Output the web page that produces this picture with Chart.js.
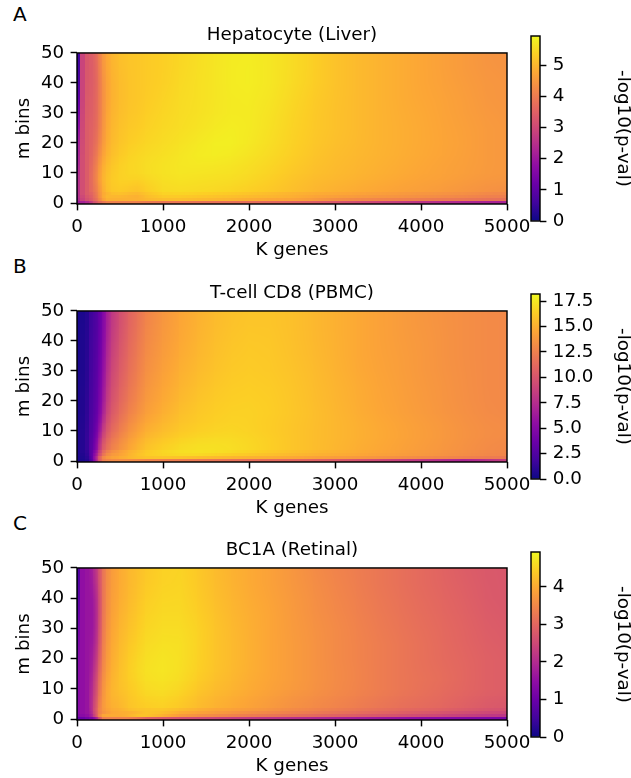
<!DOCTYPE html>
<html><head><meta charset="utf-8">
<script src="https://cdn.jsdelivr.net/npm/chart.js@4"></script>
<style>
html,body{margin:0;padding:0;background:#fff;width:631px;height:778px;overflow:hidden}
canvas{position:absolute}
.tag{position:absolute;left:13px;font:20px/24px "DejaVu Sans";color:#000}
</style></head><body>
<div class="tag" style="top:2px">A</div>
<div class="tag" style="top:254px">B</div>
<div class="tag" style="top:511px">C</div>
<script>
const kEdges=[0,25,50,100,150,200,250,300,350,400,500,600,700,800,1000,1200,1400,1600,1800,2000,2250,2500,2750,3000,3250,3500,3750,4000,4250,4500,4750,5000];
const mEdges=[-0.33,1,2,3,4,6,8,10,13,16,20,25,30,35,40,45,50];
const xTicksTop=5000, yTicksTop=50;
const hepatocyte=[
[1.8,2.0,2.2,2.4,2.6,3.6,3.6,4.1,4.1,4.1,4.1,4.1,4.1,3.9,3.9,3.9,3.8,3.8,3.8,3.7,3.6,3.5,3.4,3.2,3.0,2.9,2.7,2.5,2.4,2.3,2.2],
[1.5,2.4,2.9,3.2,3.3,3.8,4.3,4.9,4.9,4.9,4.9,4.9,4.9,5.1,5.1,5.1,5.0,5.0,4.9,4.8,4.7,4.7,4.4,4.3,4.2,4.15,4.1,4.0,3.95,3.9,3.8],
[1.6,2.5,3.0,3.3,3.4,3.9,4.5,5.0,5.0,5.0,5.0,4.9,4.9,5.25,5.3,5.25,5.2,5.15,5.1,5.0,4.95,4.8,4.65,4.6,4.5,4.45,4.4,4.3,4.25,4.15,4.05],
[1.7,2.5,3.1,3.4,3.5,3.9,4.6,4.9,5.0,5.2,5.1,5.05,5.0,5.35,5.45,5.4,5.35,5.3,5.25,5.15,5.0,4.9,4.8,4.75,4.65,4.6,4.5,4.45,4.4,4.3,4.2],
[2.0,2.5,3.1,3.4,3.6,4.0,4.6,5.0,5.15,5.3,5.25,5.2,5.15,5.45,5.55,5.5,5.5,5.45,5.4,5.3,5.2,5.05,4.95,4.85,4.8,4.7,4.65,4.6,4.5,4.45,4.35],
[2.0,2.5,3.1,3.4,3.6,4.15,4.75,5.05,5.2,5.35,5.4,5.35,5.3,5.5,5.6,5.6,5.55,5.55,5.5,5.4,5.25,5.1,5.0,4.95,4.85,4.8,4.7,4.65,4.6,4.5,4.45],
[1.8,2.5,3.1,3.4,3.65,4.2,4.8,5.05,5.2,5.35,5.4,5.45,5.45,5.55,5.65,5.65,5.6,5.6,5.55,5.45,5.3,5.15,5.05,5.0,4.9,4.85,4.75,4.7,4.65,4.55,4.5],
[1.4,2.4,3.1,3.4,3.6,4.1,4.7,5.0,5.15,5.3,5.45,5.45,5.5,5.6,5.65,5.7,5.65,5.65,5.6,5.5,5.35,5.2,5.1,5.0,4.95,4.85,4.8,4.7,4.65,4.6,4.5],
[1.0,2.2,3.1,3.4,3.55,4.0,4.55,4.9,5.05,5.25,5.4,5.45,5.5,5.55,5.65,5.7,5.75,5.7,5.65,5.55,5.4,5.25,5.1,5.05,4.95,4.9,4.8,4.75,4.65,4.6,4.5],
[0.7,2.3,3.1,3.4,3.5,3.85,4.35,4.75,4.95,5.15,5.3,5.4,5.45,5.5,5.6,5.7,5.8,5.8,5.75,5.6,5.45,5.3,5.15,5.05,5.0,4.9,4.85,4.75,4.7,4.6,4.5],
[0.5,2.0,3.0,3.4,3.5,3.7,4.2,4.65,4.9,5.1,5.25,5.3,5.35,5.45,5.55,5.6,5.7,5.8,5.8,5.65,5.5,5.3,5.2,5.1,5.0,4.9,4.85,4.75,4.7,4.6,4.5],
[0.4,1.6,3.0,3.4,3.45,3.6,4.1,4.6,4.85,5.05,5.2,5.25,5.3,5.4,5.5,5.55,5.65,5.7,5.75,5.7,5.5,5.35,5.2,5.1,5.0,4.9,4.85,4.75,4.65,4.6,4.5],
[0.3,1.2,2.9,3.35,3.4,3.6,4.1,4.55,4.8,5.0,5.15,5.2,5.25,5.35,5.5,5.55,5.6,5.7,5.75,5.7,5.55,5.35,5.2,5.1,5.0,4.9,4.8,4.75,4.65,4.55,4.45],
[0.2,0.9,2.9,3.35,3.4,3.55,4.1,4.5,4.75,5.0,5.15,5.2,5.25,5.3,5.45,5.55,5.6,5.7,5.75,5.75,5.6,5.4,5.25,5.1,5.0,4.9,4.8,4.7,4.65,4.55,4.45],
[0.15,0.7,2.9,3.3,3.35,3.5,4.15,4.55,4.8,5.0,5.15,5.2,5.25,5.3,5.4,5.55,5.6,5.7,5.8,5.75,5.6,5.45,5.25,5.1,5.0,4.9,4.8,4.7,4.6,4.5,4.45],
[0.1,0.6,2.9,3.3,3.4,3.6,4.3,4.65,4.85,5.05,5.2,5.2,5.25,5.3,5.4,5.5,5.6,5.7,5.75,5.75,5.6,5.45,5.25,5.1,5.0,4.9,4.8,4.7,4.6,4.5,4.4]
];
const tcell=[
[0.3,0.4,0.5,0.8,1.5,7,12,12.5,13,13.2,13.2,13.2,13,12.6,12.4,12.2,12,11.8,11.6,11.4,11.2,11,10.6,10.2,9.6,9,8.4,7.8,7.2,6.8,8.6],
[0.4,0.5,0.6,1,1.8,7.5,12,13.5,14,14.5,15,15.5,15.8,16,16,15.8,15.6,15.4,15.2,15,14.8,14.5,14.2,14,13.8,13.5,13.2,13,12.8,12.5,12.2],
[0.4,0.6,0.7,1.2,2.2,6.5,10.5,12.5,13.5,14,14.7,15.5,16,16.5,16.8,17,16.8,16.5,16.3,16,15.6,15.3,15,14.8,14.5,14.2,14,13.7,13.4,13.1,12.8],
[0.4,0.6,0.8,1.3,2.4,5.5,10,11.8,12.8,13.6,14.6,15.3,15.8,16.5,17,17.2,17.2,17,16.8,16.4,16,15.6,15.3,15,14.7,14.4,14.1,13.8,13.5,13.2,12.9],
[0.4,0.6,0.8,1.4,2.5,4.5,9.5,11,12,13,14,14.9,15.5,16.2,16.8,17.1,17.2,17.1,17,16.6,16.2,15.8,15.5,15.1,14.8,14.5,14.2,13.9,13.6,13.3,13],
[0.4,0.6,0.8,1.4,2.5,4,8.5,10.3,11.3,12.5,13.6,14.5,15.1,15.8,16.4,16.8,17,17,16.9,16.6,16.2,15.8,15.5,15.2,14.9,14.6,14.3,14,13.7,13.4,13.1],
[0.4,0.6,0.8,1.4,2.4,3.6,7.5,9.8,10.8,12,13.2,14.1,14.8,15.5,16.1,16.5,16.7,16.8,16.8,16.5,16.2,15.8,15.5,15.2,14.9,14.6,14.3,14,13.7,13.4,13.2],
[0.4,0.6,0.8,1.3,2.3,3.4,6.5,9,10.3,11.5,12.8,13.7,14.4,15.1,15.8,16.2,16.4,16.6,16.6,16.4,16.1,15.8,15.5,15.2,14.9,14.6,14.3,14,13.7,13.4,13.2],
[0.3,0.5,0.7,1.2,2.2,3.2,5.5,8.2,9.7,11,12.3,13.2,13.9,14.7,15.6,16,16.3,16.5,16.6,16.5,16.2,15.9,15.5,15.2,14.8,14.5,14.2,13.9,13.6,13.3,13.1],
[0.3,0.5,0.7,1.2,2.1,3.1,4.8,7.5,9.2,10.6,11.9,12.8,13.5,14.4,15.3,15.9,16.2,16.4,16.5,16.5,16.2,15.9,15.5,15.1,14.7,14.4,14.1,13.8,13.5,13.3,13],
[0.3,0.5,0.7,1.1,2,3,4.5,7,8.8,10.2,11.5,12.4,13.2,14.2,15,15.6,16,16.3,16.4,16.4,16.2,15.8,15.4,15.1,14.7,14.4,14.1,13.8,13.5,13.2,13],
[0.3,0.5,0.6,1,1.9,2.9,4.2,6.6,8.4,9.9,11.2,12.1,12.9,13.9,14.8,15.4,15.8,16.1,16.3,16.3,16.1,15.8,15.4,15,14.6,14.3,14,13.7,13.5,13.2,13],
[0.3,0.4,0.6,1,1.8,2.8,4,6.2,8,9.6,10.9,11.9,12.7,13.7,14.6,15.2,15.6,16,16.2,16.2,16,15.7,15.3,14.9,14.5,14.3,14,13.7,13.4,13.2,13],
[0.3,0.4,0.6,0.9,1.8,2.7,3.8,5.9,7.7,9.3,10.7,11.7,12.5,13.5,14.4,15,15.5,15.9,16.1,16.2,16,15.6,15.3,14.9,14.5,14.2,14,13.7,13.4,13.2,13],
[0.3,0.4,0.6,0.9,1.7,2.6,3.6,5.6,7.5,9,10.5,11.5,12.3,13.4,14.3,14.9,15.4,15.8,16,16.1,15.9,15.6,15.2,14.9,14.5,14.2,13.9,13.7,13.4,13.2,13],
[0.3,0.4,0.5,0.8,1.6,2.5,3.5,5.5,7.2,8.8,10.3,11.3,12.1,13.2,14.2,14.8,15.3,15.7,15.9,16,15.9,15.6,15.2,14.9,14.5,14.2,13.9,13.6,13.4,13.2,13]
];
const bc1a=[
[0.4,0.9,1,1.1,1.2,1.4,3.3,3.4,3.4,3.4,3.4,3.4,3.1,2.9,2.7,2.6,2.5,2.4,2.3,2.2,2.1,2,1.9,1.8,1.7,1.6,1.5,1.4,1.35,1.3,1.2],
[0.6,1.3,1.4,1.5,1.6,2.8,3.9,3.95,4,4,4,4.2,4.35,4.3,3.9,3.7,3.6,3.5,3.4,3.3,3.2,3.1,3,2.9,2.8,2.7,2.6,2.5,2.4,2.3,2.2],
[0.6,1.4,1.5,1.6,1.7,3,3.6,3.7,3.9,4,4.05,4.1,4.25,4.4,4.1,3.95,3.85,3.75,3.65,3.55,3.45,3.35,3.25,3.15,3.05,2.95,2.85,2.75,2.65,2.55,2.45],
[0.5,1.4,1.5,1.6,1.75,3.05,3.6,3.8,3.95,4.05,4.1,4.35,4.25,4.4,4.3,4.15,4,3.9,3.85,3.75,3.6,3.5,3.4,3.3,3.2,3.1,3,2.95,2.85,2.75,2.65],
[0.5,1.4,1.5,1.6,1.8,2.95,3.6,3.85,4,4.1,4.2,4.4,4.35,4.5,4.45,4.3,4.15,4.05,3.95,3.85,3.7,3.6,3.5,3.4,3.3,3.2,3.1,3.05,2.95,2.85,2.75],
[0.5,1.4,1.5,1.6,1.8,2.8,3.5,3.85,4.05,4.15,4.25,4.4,4.45,4.55,4.55,4.35,4.2,4.1,4,3.9,3.75,3.65,3.55,3.45,3.35,3.25,3.15,3.1,3,2.9,2.8],
[0.4,1.4,1.5,1.6,1.8,2.7,3.45,3.85,4.05,4.2,4.3,4.4,4.5,4.6,4.6,4.4,4.25,4.15,4.05,3.95,3.8,3.7,3.6,3.5,3.4,3.3,3.2,3.1,3,2.95,2.85],
[0.4,1.4,1.5,1.6,1.75,2.6,3.4,3.8,4,4.2,4.35,4.45,4.55,4.65,4.65,4.5,4.3,4.2,4.1,3.95,3.85,3.75,3.6,3.5,3.4,3.3,3.2,3.15,3.05,2.95,2.85],
[0.3,1.4,1.5,1.6,1.7,2.5,3.3,3.75,3.95,4.2,4.35,4.5,4.6,4.7,4.7,4.55,4.35,4.25,4.1,4,3.85,3.75,3.6,3.55,3.4,3.3,3.2,3.15,3.05,2.95,2.85],
[0.25,1.4,1.5,1.6,1.65,2.3,3.2,3.65,3.9,4.15,4.35,4.5,4.6,4.7,4.72,4.55,4.4,4.25,4.15,4,3.85,3.75,3.6,3.5,3.4,3.3,3.2,3.1,3.05,2.95,2.85],
[0.2,1.3,1.5,1.6,1.65,2,3.1,3.6,3.85,4.1,4.3,4.45,4.55,4.65,4.7,4.6,4.4,4.25,4.15,4,3.85,3.75,3.6,3.5,3.4,3.3,3.2,3.1,3,2.95,2.85],
[0.2,1.2,1.5,1.6,1.6,1.8,3,3.5,3.8,4.05,4.25,4.35,4.5,4.6,4.65,4.6,4.4,4.25,4.15,4,3.85,3.75,3.6,3.5,3.4,3.3,3.2,3.1,3,2.9,2.8],
[0.15,1.1,1.5,1.6,1.6,1.75,2.95,3.45,3.75,4,4.2,4.3,4.45,4.55,4.6,4.55,4.4,4.25,4.1,4,3.85,3.7,3.6,3.5,3.35,3.25,3.15,3.05,3,2.9,2.8],
[0.15,0.9,1.5,1.6,1.6,1.75,2.9,3.4,3.7,3.95,4.15,4.25,4.4,4.5,4.6,4.5,4.35,4.2,4.1,4,3.85,3.7,3.55,3.45,3.35,3.25,3.15,3.05,2.95,2.85,2.75],
[0.15,0.8,1.5,1.6,1.6,1.9,2.9,3.4,3.7,3.9,4.1,4.2,4.35,4.45,4.55,4.5,4.3,4.2,4.05,3.95,3.8,3.7,3.55,3.45,3.3,3.2,3.1,3,2.95,2.85,2.75],
[0.15,0.7,1.5,1.6,1.65,2.2,2.9,3.4,3.65,3.9,4.1,4.2,4.3,4.4,4.55,4.45,4.3,4.15,4.05,3.95,3.8,3.65,3.5,3.4,3.3,3.2,3.1,3,2.9,2.8,2.75]
];
const panelTitles=["Hepatocyte (Liver)","T-cell CD8 (PBMC)","BC1A (Retinal)"];
const colorMax=[5.93,18.2,4.93];
const colorSteps=[1,2.5,1];
const colorDecimals=[0,1,0];
const plasma=["#0d0887","#41049d","#6a00a8","#8f0da4","#b12a90","#cc4778","#e16462","#f1844b","#fca636","#fcce25","#f0f921"];

const FONT={family:'"DejaVu Sans"',size:18.3};
const LINE=1.45, TICK=6.4, PAD=6.4;
const SHARP_COLS=4, SHARP_ROWS=4;
Chart.defaults.animation=false;
Chart.defaults.font.family=FONT.family;
Chart.defaults.color='#000';

function rgb(h){return [1,3,5].map(i=>parseInt(h.substr(i,2),16));}
const plasmaRgb=plasma.map(rgb);
function colorOf(f){
  f=Math.max(0,Math.min(1,f))*10;
  const i=Math.min(9,Math.floor(f)),t=f-i,a=plasmaRgb[i],b=plasmaRgb[i+1];
  return a.map((c,n)=>Math.round(c+(b[n]-c)*t));
}
const frame={id:'frame',afterDatasetsDraw(c){
  const a=c.chartArea,x=c.ctx;x.save();x.strokeStyle='#000';x.lineWidth=LINE;
  x.strokeRect(a.left,a.top,a.right-a.left,a.bottom-a.top);x.restore();
}};
function addCanvas(left,top,w,h){
  const cv=document.createElement('canvas');
  cv.width=w;cv.height=h;cv.style.left=left+'px';cv.style.top=top+'px';
  cv.style.width=w+'px';cv.style.height=h+'px';
  document.body.appendChild(cv);return cv.getContext('2d');
}
// value at one corner of a cell: blended with the neighbours on the smooth part of the map
function corner(rows,i,j,right,up){
  const i2=i+(right?1:-1), j2=j+(up?1:-1);
  const okI=i>=SHARP_COLS&&i2>=SHARP_COLS&&i2<rows[0].length;
  const okJ=j>=SHARP_ROWS&&j2>=SHARP_ROWS&&j2<rows.length;
  let s=rows[j][i],n=1;
  if(okI){s+=rows[j][i2];n++;}
  if(okJ){s+=rows[j2][i];n++;}
  if(okI&&okJ){s+=rows[j2][i2];n++;}
  return s/n;
}
function cellStyle(ctx,rows,vmax){
  const r=ctx.raw,s=ctx.chart.scales;
  if(!r||!s.x||!s.y)return 'rect';
  const pw=Math.abs(s.x.getPixelForValue(r.x1)-s.x.getPixelForValue(r.x0));
  const ph=Math.abs(s.y.getPixelForValue(r.y0)-s.y.getPixelForValue(r.y1));
  if(!Number.isFinite(pw)||!Number.isFinite(ph))return 'rect';
  const w=Math.ceil(pw)+1,h=Math.ceil(ph)+1;
  const cv=document.createElement('canvas');cv.width=w;cv.height=h;
  const g=cv.getContext('2d'),img=g.createImageData(w,h);
  const ll=corner(rows,r.i,r.j,false,false),lr=corner(rows,r.i,r.j,true,false),
        ul=corner(rows,r.i,r.j,false,true),ur=corner(rows,r.i,r.j,true,true);
  for(let py=0;py<h;py++){
    const t=1-(py+.5)/h;
    for(let px=0;px<w;px++){
      const u=(px+.5)/w;
      const v=(ll*(1-u)+lr*u)*(1-t)+(ul*(1-u)+ur*u)*t;
      const c=colorOf(v/vmax),o=(py*w+px)*4;
      img.data[o]=c[0];img.data[o+1]=c[1];img.data[o+2]=c[2];img.data[o+3]=255;
    }
  }
  g.putImageData(img,0,0);
  return cv;
}
function heatmap(rows,idx,axTop,axBottom){
  const cells=[];
  rows.forEach((row,j)=>row.forEach((v,i)=>cells.push({
    x:(kEdges[i]+kEdges[i+1])/2,y:(mEdges[j]+mEdges[j+1])/2,
    x0:kEdges[i],x1:kEdges[i+1],y0:mEdges[j],y1:mEdges[j+1],v,i,j})));
  const titleH=29,axisH=57,top=axTop-titleH;
  const ctx=addCanvas(0,top,540,titleH+(axBottom-axTop)+axisH);
  const vmax=colorMax[idx];
  return new Chart(ctx,{type:'scatter',plugins:[frame],
    data:{datasets:[{data:cells,showLine:false,pointRadius:3,pointBorderWidth:0,
      pointStyle:c=>cellStyle(c,rows,vmax)}]},
    options:{responsive:false,events:[],layout:{padding:{right:33,left:0,top:0,bottom:0}},
      plugins:{legend:{display:false},tooltip:{enabled:false},
        title:{display:true,text:panelTitles[idx],color:'#000',font:{...FONT,weight:'normal',lineHeight:1.2},fullSize:false,padding:{top:0,bottom:7}}},
      scales:{
        x:{type:'linear',min:0,max:xTicksTop,afterFit:s=>{s.height=axisH;},
          ticks:{stepSize:1000,maxRotation:0,font:FONT,color:'#000',padding:PAD-1,callback:v=>String(v)},
          grid:{drawOnChartArea:false,tickLength:TICK,tickWidth:LINE,tickColor:'#000'},border:{display:false},
          title:{display:true,text:'K genes',color:'#000',font:FONT,padding:{top:0,bottom:0}}},
        y:{type:'linear',min:mEdges[0],max:yTicksTop,afterFit:s=>{s.width=77;},
          ticks:{stepSize:10,includeBounds:false,font:FONT,color:'#000',padding:PAD},
          grid:{drawOnChartArea:false,tickLength:TICK,tickWidth:LINE,tickColor:'#000'},border:{display:false},
          title:{display:true,text:'m bins',color:'#000',font:FONT,padding:{top:13,bottom:0}}}
      }}});
}
function colorbar(idx,cTop,cBottom){
  const off=14,vmax=colorMax[idx];
  const ctx=addCanvas(520,cTop-off,114,cBottom-cTop+2*off);
  return new Chart(ctx,{type:'bar',plugins:[frame],
    data:{labels:[''],datasets:[{data:[[0,vmax]],barPercentage:1,categoryPercentage:1,borderWidth:0,
      backgroundColor:c=>{
        const y=c.chart.scales.y;
        if(!y||y.top===undefined)return plasma[5];
        const g=c.chart.ctx.createLinearGradient(0,y.getPixelForValue(0),0,y.getPixelForValue(vmax));
        plasma.forEach((p,i)=>g.addColorStop(i/10,p));return g;}}]},
    options:{responsive:false,events:[],layout:{padding:{left:11,right:0,top:off,bottom:off}},
      plugins:{legend:{display:false},tooltip:{enabled:false},title:{display:false}},
      scales:{
        x:{display:false},
        y:{position:'right',min:0,max:vmax,afterFit:s=>{s.width=94;s.paddingTop=0;s.paddingBottom=0;},
          ticks:{stepSize:colorSteps[idx],includeBounds:false,font:FONT,color:'#000',padding:PAD,
            callback:v=>Number(v).toFixed(colorDecimals[idx])},
          grid:{drawOnChartArea:false,tickLength:TICK,tickWidth:LINE,tickColor:'#000'},border:{display:false},
          title:{display:true,text:'-log10(p-val)',color:'#000',font:FONT,padding:{top:0,bottom:0}}}
      }}});
}
heatmap(hepatocyte,0,53,204);
heatmap(tcell,1,311,462);
heatmap(bc1a,2,568,720);
colorbar(0,36,221);
colorbar(1,294,479);
colorbar(2,552,737);
</script>
</body></html>
